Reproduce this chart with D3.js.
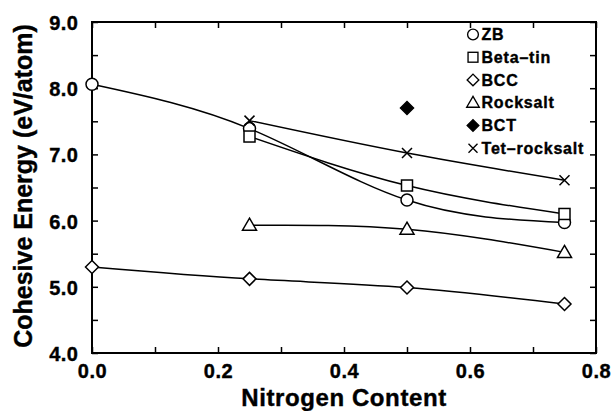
<!DOCTYPE html>
<html>
<head>
<meta charset="utf-8">
<script src="https://d3js.org/d3.v7.min.js"></script>
<style>
  body { margin: 0; background: #fff; }
  text { font-family: "Liberation Sans", Arial, sans-serif; font-weight: bold; fill: #000;
         stroke: #000; stroke-width: 0.4px; }
</style>
</head>
<body>
<script>
  // nitrogen content (x) and cohesive energies per structure
  var zbX = [0, 0.25, 0.5, 0.75],      zbY = [8.06, 7.39, 6.31, 5.97];
  var betaX = [0.25, 0.5, 0.75],       betaY = [7.27, 6.53, 6.10];
  var bccX = [0, 0.25, 0.5, 0.75],     bccY = [5.30, 5.12, 4.99, 4.74];
  var rockX = [0.25, 0.5, 0.75],       rockY = [5.93, 5.87, 5.52];
  var bctX = [0.5],                    bctY = [7.70];
  var tetX = [0.25, 0.5, 0.75],        tetY = [7.51, 7.02, 6.61];

  var names = ["ZB", "Beta\u2013tin", "BCC", "Rocksalt", "BCT", "Tet\u2013rocksalt"];
  var xTicks = [0, 0.1, 0.2, 0.3, 0.4, 0.5, 0.6, 0.7, 0.8];
  var xLabels = [0, 0.2, 0.4, 0.6, 0.8];
  var yTicks = [4, 4.5, 5, 5.5, 6, 6.5, 7, 7.5, 8, 8.5, 9];
  var yLabels = [4, 5, 6, 7, 8, 9];

  var margin = {top: 22, right: 16, bottom: 58, left: 92},
      width = 612 - margin.left - margin.right,
      height = 411 - margin.top - margin.bottom;

  var svg = d3.select("body").append("svg")
      .attr("width", 612).attr("height", 411);
  var g = svg.append("g")
      .attr("transform", "translate(" + margin.left + "," + margin.top + ")");

  var x = d3.scaleLinear().domain([0, 0.8]).range([0, width]);
  var y = d3.scaleLinear().domain([4, 9]).range([height, 0]);

  var series = [
    {name: names[0], xs: zbX, ys: zbY, sym: "circle", line: true},
    {name: names[1], xs: betaX, ys: betaY, sym: "square", line: true},
    {name: names[2], xs: bccX, ys: bccY, sym: "diamond", line: true},
    {name: names[3], xs: rockX, ys: rockY, sym: "triangle", line: true},
    {name: names[4], xs: bctX, ys: bctY, sym: "fdiamond", line: false},
    {name: names[5], xs: tetX, ys: tetY, sym: "cross", line: true}
  ];

  // axes, ticks pointing inward
  var tl = 6;
  g.append("g").attr("transform", "translate(0," + height + ")")
    .call(d3.axisBottom(x).tickValues(xTicks).tickSizeInner(-tl).tickSizeOuter(0).tickFormat(""));
  g.append("g")
    .call(d3.axisTop(x).tickValues(xTicks).tickSizeInner(-tl).tickSizeOuter(0).tickFormat(""));
  g.append("g")
    .call(d3.axisLeft(y).tickValues(yTicks).tickSizeInner(-tl).tickSizeOuter(0).tickFormat(""));
  g.append("g").attr("transform", "translate(" + width + ",0)")
    .call(d3.axisRight(y).tickValues(yTicks).tickSizeInner(-tl).tickSizeOuter(0).tickFormat(""));
  g.selectAll(".domain").remove();
  g.selectAll(".tick line").attr("stroke", "#000").attr("stroke-width", 1.5);

  g.append("rect").attr("width", width).attr("height", height)
    .attr("fill", "none").attr("stroke", "#000").attr("stroke-width", 2);

  g.selectAll(".xl").data(xLabels).enter().append("text")
    .attr("x", d => x(d) + 0.5).attr("y", height + 25)
    .attr("text-anchor", "middle").style("font-size", "20px").style("letter-spacing", "0.5px")
    .text(d => d.toFixed(1));
  g.selectAll(".yl").data(yLabels).enter().append("text")
    .attr("x", -13.5).attr("y", d => y(d)).attr("dy", "0.4em")
    .attr("text-anchor", "end").style("font-size", "20px").style("letter-spacing", "0.5px")
    .text(d => d.toFixed(1));

  svg.append("text").attr("x", 344).attr("y", 406)
    .attr("text-anchor", "middle").style("font-size", "24px").style("letter-spacing", "0.6px")
    .text("Nitrogen Content");
  svg.append("text")
    .attr("transform", "translate(32,186) rotate(-90)")
    .attr("text-anchor", "middle").style("font-size", "25px").text("Cohesive Energy (eV/atom)");

  var line = d3.line().curve(d3.curveNatural).x(d => x(d[0])).y(d => y(d[1]));

  series.forEach(function(s) {
    var pts = s.xs.map((v, i) => [v, s.ys[i]]);
    if (s.line) {
      g.append("path").datum(pts).attr("d", line)
        .attr("fill", "none").attr("stroke", "#000").attr("stroke-width", 1.5);
    }
  });

  function marker(sel, sym) {
    var m;
    if (sym === "circle") {
      m = sel.append("circle").attr("r", 6);
    } else if (sym === "square") {
      m = sel.append("rect").attr("x", -5.5).attr("y", -5.5).attr("width", 11).attr("height", 11);
    } else if (sym === "diamond" || sym === "fdiamond") {
      m = sel.append("path").attr("d", "M0,-6.5L6.5,0L0,6.5L-6.5,0Z");
    } else if (sym === "triangle") {
      m = sel.append("path").attr("d", "M0,-7L7,5L-7,5Z");
    } else {
      m = sel.append("path").attr("d", "M-5,-5L5,5M-5,5L5,-5");
    }
    m.attr("fill", sym === "fdiamond" ? "#000" : "#fff")
      .attr("stroke", "#000").attr("stroke-width", 1.5);
    if (sym === "cross") m.attr("fill", "none");
  }

  series.forEach(function(s) {
    s.xs.forEach(function(v, i) {
      var p = g.append("g").attr("transform", "translate(" + x(v) + "," + y(s.ys[i]) + ")");
      marker(p, s.sym);
    });
  });

  // legend
  var leg = g.append("g").attr("transform", "translate(" + (473 - margin.left) + "," + (34.5 - margin.top) + ")");
  series.forEach(function(s, i) {
    var r = leg.append("g").attr("transform", "translate(0," + (i * 22.74) + ")");
    marker(r, s.sym);
    r.select("*").attr("transform", "scale(0.9)");
    r.append("text").attr("x", 8.5).attr("y", 0).attr("dy", "0.36em")
      .style("font-size", "16px").style("letter-spacing", "0.8px").text(s.name);
  });
</script>
</body>
</html>
